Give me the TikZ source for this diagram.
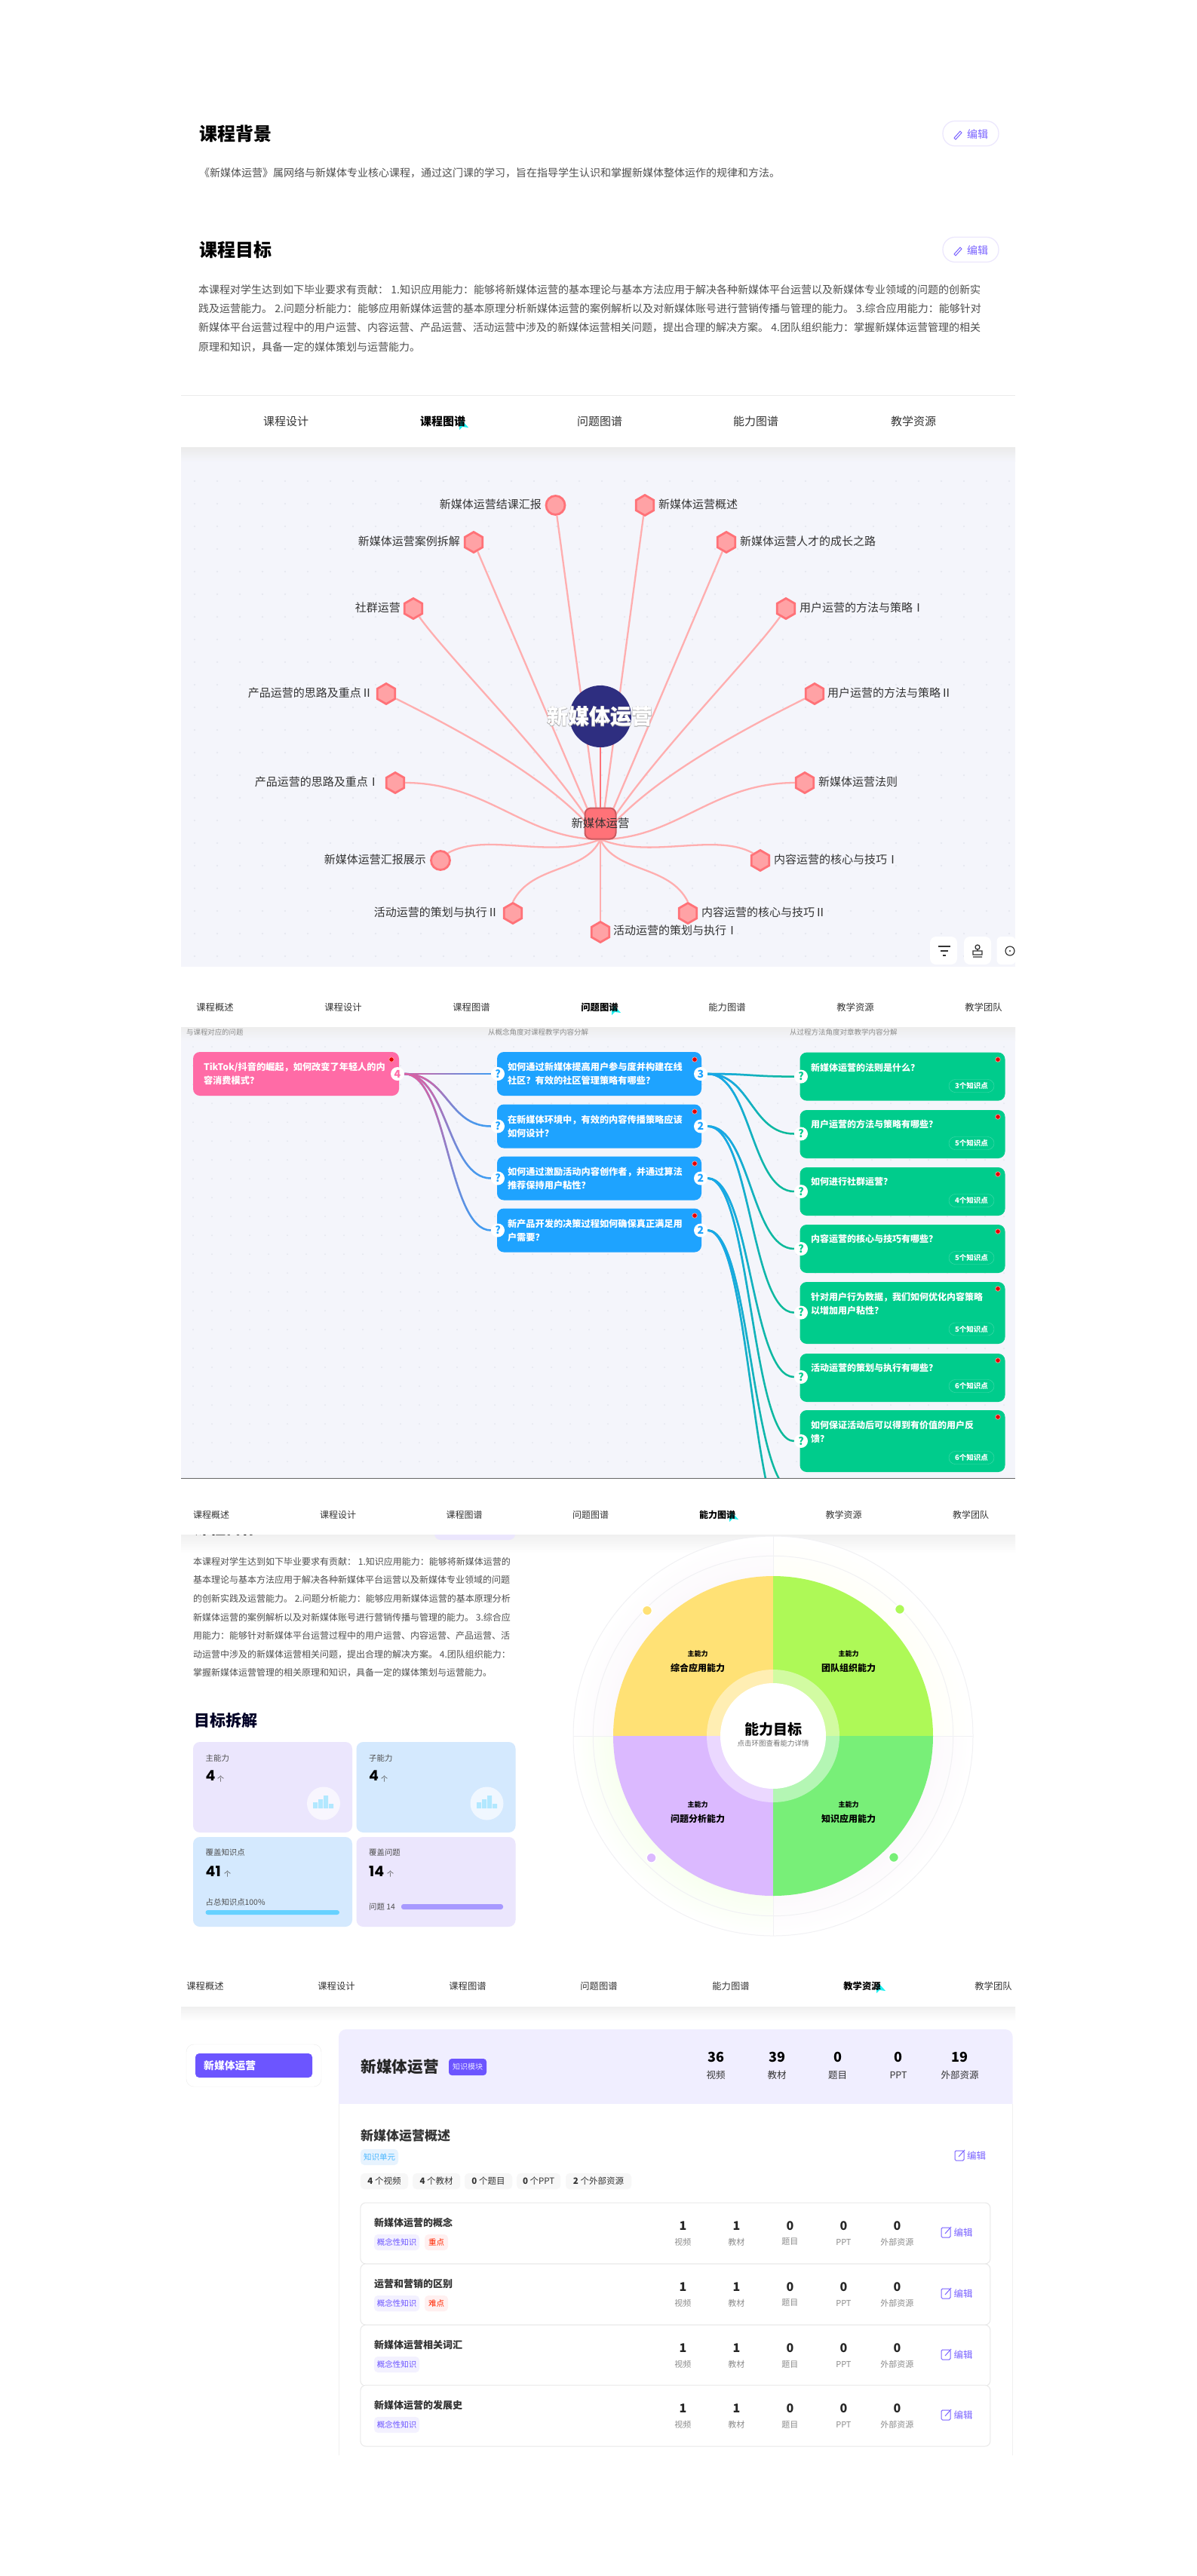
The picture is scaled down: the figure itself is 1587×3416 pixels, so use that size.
\documentclass[tikz,border=0pt]{standalone}
\usepackage{fontspec}
\setmainfont{Noto Sans CJK SC}
\newfontfamily\numfont{Poppins}
\usetikzlibrary{shapes.geometric,fadings}
\newcommand\fsz[1]{\fontsize{#1}{#1}\selectfont}
\definecolor{panelbg}{HTML}{F4F5FB}
\definecolor{griddot}{HTML}{E3E5EE}
\definecolor{inktxt}{HTML}{333333}
\definecolor{bodytxt}{HTML}{4F4F4F}
\definecolor{softtxt}{HTML}{8C8C8C}
\definecolor{accent}{HTML}{6C55FF}
\definecolor{penpurple}{HTML}{7A63FF}
\definecolor{cuecyan}{HTML}{1CF0F0}
\definecolor{kpedge}{HTML}{FF7278}
\definecolor{kpfill}{HTML}{FFA2A5}
\definecolor{kpline}{HTML}{FFAEAF}
\definecolor{midblue}{HTML}{2E2E80}
\definecolor{pinkbox}{HTML}{FF6BA6}
\definecolor{bluebox}{HTML}{1EA3FF}
\definecolor{greenbox}{HTML}{00CC8C}
\definecolor{linkpink}{HTML}{E060A0}
\definecolor{linkblue}{HTML}{3F9DF2}
\definecolor{linkgreen}{HTML}{0DBB98}
\definecolor{linksky}{HTML}{1AA6EE}
\definecolor{cardlav}{HTML}{EBE6FD}
\definecolor{cardsky}{HTML}{D4E9FE}
\definecolor{wheely}{HTML}{FFE175}
\definecolor{wheelg}{HTML}{AEF957}
\definecolor{wheelp}{HTML}{DBB9FF}
\definecolor{wheeld}{HTML}{78EF78}
\definecolor{ringline}{HTML}{F1F1F4}
\tikzfading[name=fadedown, top color=transparent!0, bottom color=transparent!100]
\tikzfading[name=fadeacross, left color=transparent!0, right color=transparent!100]
\tikzset{
  txt/.style={inner sep=0pt, anchor=west, text=bodytxt},
  ctr/.style={inner sep=0pt, text=inktxt},
  headtxt/.style={inner sep=0pt, anchor=west, text=black, font=\bfseries\fsz{24}},
  tabtxt/.style={inner sep=0pt, text=inktxt},
  editbtn/.style={draw=cardlav, line width=1.2pt, fill=white, rounded corners=16pt, minimum width=74pt, minimum height=33pt, inner sep=0pt},
  penline/.style={draw=penpurple, line width=1pt},
  kphex/.style={draw=kpedge, fill=kpfill, line width=2.8pt, regular polygon, regular polygon sides=6, shape border rotate=30, minimum size=27pt, inner sep=0pt},
  kpball/.style={draw=kpedge, fill=kpfill, line width=2.8pt, circle, minimum size=25pt, inner sep=0pt},
  kplabel/.style={inner sep=0pt, text=inktxt, font=\fsz{15}},
  kplink/.style={draw=kpline, line width=2.3pt},
  ctrlbtn/.style={fill=white, rounded corners=8pt, minimum width=36pt, minimum height=37pt, inner sep=0pt},
  qbox/.style={rounded corners=9pt, text=white, align=left, inner xsep=14pt, inner ysep=0pt, minimum height=58pt, font=\bfseries\fontsize{12.2}{18}\selectfont},
  gbox/.style={fill=greenbox, rounded corners=9pt, minimum width=272pt, inner sep=0pt},
  gtxt/.style={inner sep=0pt, anchor=west, text=white, font=\bfseries\fsz{12}},
  gpill/.style={draw=white!30!greenbox, rounded corners=8.5pt, minimum width=60pt, minimum height=17pt, inner sep=0pt, text=white, font=\bfseries\fsz{9.5}},
  reddot/.style={circle, fill=red!90!black, draw=white!60!red, line width=.7pt, minimum size=6.5pt, inner sep=0pt},
  badge/.style={circle, fill=white, minimum size=18pt, inner sep=0pt, font=\bfseries\fsz{14}},
  link/.style={line width=2.5pt},
  statcard/.style={rounded corners=9pt, minimum width=211pt, inner sep=0pt},
  wheelsmall/.style={inner sep=0pt, text=black, font=\bfseries\fsz{9}},
  wheelbig/.style={inner sep=0pt, text=black, font=\bfseries\fsz{12}},
  wheeldot/.style={circle, draw=white, line width=1.5pt, minimum size=13pt, inner sep=0pt},
  tagpurple/.style={fill=accent!8, rounded corners=5pt, text=accent, minimum width=60pt, minimum height=21pt, inner sep=0pt, font=\fsz{10.5}},
  tagred/.style={fill=red!6, rounded corners=5pt, text=red!70!orange, minimum width=31pt, minimum height=21pt, inner sep=0pt, font=\fsz{10.5}},
  chip/.style={fill=black!3, rounded corners=5pt, text=inktxt, minimum height=21pt, inner sep=0pt, font=\fsz{11.5}},
  rowcard/.style={draw=black!9, line width=1pt, fill=white, rounded corners=7pt, minimum width=835pt, minimum height=81pt, inner sep=0pt}
}
\newcommand\tabcue[1]{\fill[cuecyan] #1 -- ++(9,10) -- ++(-8,-1) -- ++(-4,4) -- ++(0,-6) -- cycle;}
\newcommand\penicon[2]{\draw[penline] (#1,#2) -- ++(8,-9) -- ++(2,2) -- ++(-8,9) -- cycle;}
\newcommand\boxpen[2]{\draw[penline, rounded corners=1.5pt] (#1,#2) rectangle ++(12,13); \draw[penline] (#1+5,#2+8) -- ++(8,-9);}
\begin{document}
\begin{tikzpicture}[x=1pt,y=-1pt]
\useasboundingbox (0,0) rectangle (1587,3416);
\fill[white] (0,0) rectangle (1587,3416);
% course text
\node[headtxt] (h1) at (264,177) {课程背景};
\node[editbtn] (b1) at (1287,177) {};
\penicon{1265}{183}
\node[inner sep=0pt, text=penpurple, font=\fsz{14}] (b1t) at (1296,178) {编辑};
\node[txt, font=\fsz{14}] (p1) at (264,229) {《新媒体运营》属网络与新媒体专业核心课程，通过这门课的学习，旨在指导学生认识和掌握新媒体整体运作的规律和方法。};
\node[headtxt] (h2) at (264,331) {课程目标};
\node[editbtn] (b2) at (1287,331) {};
\penicon{1265}{337}
\node[inner sep=0pt, text=penpurple, font=\fsz{14}] (b2t) at (1296,332) {编辑};
\node[txt, font=\fsz{14}] (l1) at (263,384) {本课程对学生达到如下毕业要求有贡献： 1.知识应用能力：能够将新媒体运营的基本理论与基本方法应用于解决各种新媒体平台运营以及新媒体专业领域的问题的创新实};
\node[txt, font=\fsz{14}] (l2) at (263,409) {践及运营能力。 2.问题分析能力：能够应用新媒体运营的基本原理分析新媒体运营的案例解析以及对新媒体账号进行营销传播与管理的能力。 3.综合应用能力：能够针对};
\node[txt, font=\fsz{14}] (l3) at (263,434) {新媒体平台运营过程中的用户运营、内容运营、产品运营、活动运营中涉及的新媒体运营相关问题，提出合理的解决方案。 4.团队组织能力：掌握新媒体运营管理的相关};
\node[txt, font=\fsz{14}] (l4) at (263,460) {原理和知识，具备一定的媒体策划与运营能力。};
\draw[black!8, line width=1pt] (240,524) -- (1346,524);
\tabcue{(612,557)}
\node[tabtxt, font=\fsz{15}] (t11) at (379,559) {课程设计};
\node[tabtxt, font=\bfseries\fsz{15}, text=black] (t12) at (587,559) {课程图谱};
\node[tabtxt, font=\fsz{15}] (t13) at (795,559) {问题图谱};
\node[tabtxt, font=\fsz{15}] (t14) at (1002,559) {能力图谱};
\node[tabtxt, font=\fsz{15}] (t15) at (1211,559) {教学资源};
% knowledge map
\fill[panelbg] (240,593) rectangle (1346,1282);
\shade[top color=black!8, bottom color=panelbg] (240,593) rectangle (1346,612);
\foreach \x in {258,288,...,1338} \foreach \y in {638,668,...,1268} \fill[griddot] (\x,\y) circle[radius=1.2pt];
\coordinate (hub) at (796,1113);
\node[kpball] (k1) at (736.5,670) {};
\node[kphex] (k2) at (855,670) {};
\node[kphex] (k3) at (628,719) {};
\node[kphex] (k4) at (963,719) {};
\node[kphex] (k5) at (548,807) {};
\node[kphex] (k6) at (1042,807) {};
\node[kphex] (k7) at (512,920) {};
\node[kphex] (k8) at (1080,920) {};
\node[kphex] (k9) at (524,1038) {};
\node[kphex] (k10) at (1067,1038) {};
\node[kpball] (k11) at (584,1141) {};
\node[kphex] (k12) at (1008,1141) {};
\node[kphex] (k13) at (680,1211) {};
\node[kphex] (k14) at (912,1211) {};
\node[kphex] (k15) at (796,1236) {};
\draw[kplink] (k1) -- (hub);
\draw[kplink] (k2) -- (hub);
\draw[kplink] (k3) -- (hub);
\draw[kplink] (k4) -- (hub);
\draw[kplink] (k5) .. controls +(50,70) and +(-50,-90) .. (hub);
\draw[kplink] (k6) .. controls +(-50,70) and +(50,-90) .. (hub);
\draw[kplink] (k7) .. controls +(80,40) and +(-60,-80) .. (hub);
\draw[kplink] (k8) .. controls +(-80,40) and +(60,-80) .. (hub);
\draw[kplink] (k9.east) .. controls +(110,0) and +(-100,0) .. (hub);
\draw[kplink] (k10.west) .. controls +(-110,0) and +(100,0) .. (hub);
\draw[kplink] (k11.north east) .. controls +(50,-28) and +(-66,27) .. (hub);
\draw[kplink] (k12.north west) .. controls +(-50,-28) and +(66,27) .. (hub);
\draw[kplink] (k13.north) .. controls +(25,-50) and +(-20,45) .. (hub);
\draw[kplink] (k14.north) .. controls +(-25,-50) and +(20,45) .. (hub);
\draw[kplink] (k15) -- (hub);
\node[draw=kpedge!80!black, fill=kpedge, line width=2pt, rounded corners=8pt, minimum width=41pt, minimum height=41pt, inner sep=0pt] (kroot) at (796,1092) {};
\node[circle, fill=midblue, minimum size=82pt, inner sep=0pt] (mid) at (796,950) {};
\draw[kpedge, line width=2pt] (mid) -- (kroot);
\node[inner sep=0pt, text=white, font=\bfseries\fsz{28}] (midt) at (795,950) {\rlap{\addfontfeature{FakeBold=2.5}\color{black!35}新媒体运营}新媒体运营};
\node[inner sep=0pt, text=inktxt, font=\fsz{15.4}] (kroott) at (796,1092) {新媒体运营};
\node[kplabel, anchor=east] (k1t) at (718,669) {新媒体运营结课汇报};
\node[kplabel, anchor=west] (k2t) at (873,669) {新媒体运营概述};
\node[kplabel, anchor=east] (k3t) at (610,718) {新媒体运营案例拆解};
\node[kplabel, anchor=west] (k4t) at (981,718) {新媒体运营人才的成长之路};
\node[kplabel, anchor=east] (k5t) at (531,806) {社群运营};
\node[kplabel, anchor=west] (k6t) at (1060,806) {用户运营的方法与策略Ⅰ};
\node[kplabel, anchor=east] (k7t) at (494,919) {产品运营的思路及重点Ⅱ};
\node[kplabel, anchor=west] (k8t) at (1097,919) {用户运营的方法与策略Ⅱ};
\node[kplabel, anchor=east] (k9t) at (503,1037) {产品运营的思路及重点Ⅰ};
\node[kplabel, anchor=west] (k10t) at (1085,1037) {新媒体运营法则};
\node[kplabel, anchor=east] (k11t) at (565,1140) {新媒体运营汇报展示};
\node[kplabel, anchor=west] (k12t) at (1026,1140) {内容运营的核心与技巧Ⅰ};
\node[kplabel, anchor=east] (k13t) at (661,1210) {活动运营的策划与执行Ⅱ};
\node[kplabel, anchor=west] (k14t) at (930,1210) {内容运营的核心与技巧Ⅱ};
\node[kplabel, anchor=west] (k15t) at (813,1234) {活动运营的策划与执行Ⅰ};
\node[ctrlbtn] (c1) at (1251,1260.5) {};
\node[ctrlbtn] (c2) at (1296,1260.5) {};
\node[ctrlbtn, minimum width=25pt, rounded corners=6pt] (c3) at (1334,1260.5) {};
\draw[inktxt, line width=1.5pt] (1244,1255) -- ++(16,0) (1247,1261) -- ++(10,0) (1250,1267) -- ++(4,0);
\draw[inktxt, line width=1.3pt] (1296,1256) circle[radius=3pt] (1296,1259) -- (1296,1261) (1290,1261) rectangle (1302,1266) (1290,1269) -- (1302,1269);
\draw[inktxt, line width=1.2pt] (1339,1261) circle[radius=6pt];
\fill[inktxt] (1339,1261) circle[radius=1.2pt];
% question map
\tabcue{(814,1333)}
\node[tabtxt, font=\fsz{12.3}] (t21) at (285,1336) {课程概述};
\node[tabtxt, font=\fsz{12.3}] (t22) at (455,1336) {课程设计};
\node[tabtxt, font=\fsz{12.3}] (t23) at (625,1336) {课程图谱};
\node[tabtxt, font=\bfseries\fsz{12.3}, text=black] (t24) at (795,1336) {问题图谱};
\node[tabtxt, font=\fsz{12.3}] (t25) at (964,1336) {能力图谱};
\node[tabtxt, font=\fsz{12.3}] (t26) at (1134,1336) {教学资源};
\node[tabtxt, font=\fsz{12.3}] (t27) at (1304,1336) {教学团队};
\fill[panelbg] (240,1362) rectangle (1346,1960);
\shade[top color=black!7, bottom color=panelbg] (240,1362) rectangle (1346,1380);
\foreach \x in {256,281,...,1336} \foreach \y in {1388,1413,...,1950} \fill[griddot] (\x,\y) circle[radius=1pt];
\node[txt, text=softtxt, font=\fsz{9.4}] (q0a) at (247,1369) {与课程对应的问题};
\node[txt, text=softtxt, font=\fsz{9.5}] (q0b) at (647,1369) {从概念角度对课程教学内容分解};
\node[txt, text=softtxt, font=\fsz{9.5}] (q0c) at (1047,1369) {从过程方法角度对章教学内容分解};
\node[qbox, fill=pinkbox, text width=245pt] (q1) at (392.5,1424) {TikTok/抖音的崛起，如何改变了年轻人的内\\容消费模式？};
\node[qbox, fill=bluebox, text width=243pt] (q2) at (794.5,1424) {如何通过新媒体提高用户参与度并构建在线\\社区？有效的社区管理策略有哪些？};
\node[qbox, fill=bluebox, text width=243pt] (q3) at (794.5,1493.5) {在新媒体环境中，有效的内容传播策略应该\\如何设计？};
\node[qbox, fill=bluebox, text width=243pt] (q4) at (794.5,1562.5) {如何通过激励活动内容创作者，并通过算法\\推荐保持用户粘性？};
\node[qbox, fill=bluebox, text width=243pt] (q5) at (794.5,1631.5) {新产品开发的决策过程如何确保真正满足用\\户需要？};
\node[gbox, minimum height=64pt] (g1) at (1196.5,1427.6) {};
\node[gbox, minimum height=64pt] (g2) at (1196.5,1504) {};
\node[gbox, minimum height=64pt] (g3) at (1196.5,1580) {};
\node[gbox, minimum height=64pt] (g4) at (1196.5,1656) {};
\node[gbox, minimum height=82pt] (g5) at (1196.5,1741) {};
\node[gbox, minimum height=64pt] (g6) at (1196.5,1827) {};
\node[gbox, minimum height=82pt] (g7) at (1196.5,1911) {};
\node[badge, text=pinkbox] (n1) at (527,1424) {4};
\node[badge, text=bluebox] (n2) at (929,1424) {3};
\node[badge, text=bluebox] (n3) at (929,1493.5) {2};
\node[badge, text=bluebox] (n4) at (929,1562.5) {2};
\node[badge, text=bluebox] (n5) at (929,1631.5) {2};
\node[badge, text=bluebox] (a2) at (660,1424) {?};
\node[badge, text=bluebox] (a3) at (660,1493.5) {?};
\node[badge, text=bluebox] (a4) at (660,1562.5) {?};
\node[badge, text=bluebox] (a5) at (660,1631.5) {?};
\node[badge, text=greenbox] (a6) at (1062,1427.6) {?};
\node[badge, text=greenbox] (a7) at (1062,1503.5) {?};
\node[badge, text=greenbox] (a8) at (1062,1580) {?};
\node[badge, text=greenbox] (a9) at (1062,1656) {?};
\node[badge, text=greenbox] (a10) at (1062,1740.6) {?};
\node[badge, text=greenbox] (a11) at (1062,1826) {?};
\node[badge, text=greenbox] (a12) at (1062,1911) {?};
\coordinate (a13) at (1053,1978);
\coordinate (a14) at (1053,2044);
\coordinate (top1) at (590,1400);
\coordinate (low1) at (590,1450);
\coordinate (top2) at (990,1400);
\coordinate (low2) at (990,1450);
\draw[link, linkblue] (n1.east) .. controls +(57,0) and +(-57,0) .. (a2.west);
\draw[link, linkpink, path fading=fadeacross] (top1) (low1) (n1.east) .. controls +(57,0) and +(-57,0) .. (a2.west);
\draw[link, linkblue] (n1.east) .. controls +(57,0) and +(-57,0) .. (a3.west);
\draw[link, linkpink, path fading=fadedown] (n1.east) .. controls +(57,0) and +(-57,0) .. (a3.west);
\draw[link, linkblue] (n1.east) .. controls +(57,0) and +(-57,0) .. (a4.west);
\draw[link, linkpink, path fading=fadedown] (n1.east) .. controls +(57,0) and +(-57,0) .. (a4.west);
\draw[link, linkblue] (n1.east) .. controls +(57,0) and +(-57,0) .. (a5.west);
\draw[link, linkpink, path fading=fadedown] (n1.east) .. controls +(57,0) and +(-57,0) .. (a5.west);
\begin{scope}
\clip (240,1362) rectangle (1346,1960);
\draw[link, linkgreen] (n2.east) .. controls +(57,0) and +(-57,0) .. (a6.west);
\draw[link, linksky, path fading=fadeacross] (top2) (low2) (n2.east) .. controls +(57,0) and +(-57,0) .. (a6.west);
\draw[link, linkgreen] (n2.east) .. controls +(57,0) and +(-57,0) .. (a7.west);
\draw[link, linksky, path fading=fadedown] (n2.east) .. controls +(57,0) and +(-57,0) .. (a7.west);
\draw[link, linkgreen] (n2.east) .. controls +(57,0) and +(-57,0) .. (a8.west);
\draw[link, linksky, path fading=fadedown] (n2.east) .. controls +(57,0) and +(-57,0) .. (a8.west);
\draw[link, linkgreen] (n3.east) .. controls +(57,0) and +(-57,0) .. (a9.west);
\draw[link, linksky, path fading=fadedown] (n3.east) .. controls +(57,0) and +(-57,0) .. (a9.west);
\draw[link, linkgreen] (n3.east) .. controls +(57,0) and +(-57,0) .. (a10.west);
\draw[link, linksky, path fading=fadedown] (n3.east) .. controls +(57,0) and +(-57,0) .. (a10.west);
\draw[link, linkgreen] (n4.east) .. controls +(57,0) and +(-57,0) .. (a11.west);
\draw[link, linksky, path fading=fadedown] (n4.east) .. controls +(57,0) and +(-57,0) .. (a11.west);
\draw[link, linkgreen] (n4.east) .. controls +(57,0) and +(-57,0) .. (a12.west);
\draw[link, linksky, path fading=fadedown] (n4.east) .. controls +(57,0) and +(-57,0) .. (a12.west);
\draw[link, linkgreen] (n5.east) .. controls +(57,0) and +(-57,0) .. (a13);
\draw[link, linksky, path fading=fadedown] (n5.east) .. controls +(57,0) and +(-57,0) .. (a13);
\draw[link, linkgreen] (n5.east) .. controls +(57,0) and +(-57,0) .. (a14);
\draw[link, linksky, path fading=fadedown] (n5.east) .. controls +(57,0) and +(-57,0) .. (a14);
\end{scope}
\node[reddot] (r1) at (519,1405) {};
\node[reddot] (r2) at (921,1405) {};
\node[reddot] (r3) at (921,1474) {};
\node[reddot] (r4) at (921,1543) {};
\node[reddot] (r5) at (921,1612) {};
\node[reddot] (r6) at (1323,1405) {};
\node[reddot] (r7) at (1323,1481) {};
\node[reddot] (r8) at (1323,1557) {};
\node[reddot] (r9) at (1323,1633) {};
\node[reddot] (r10) at (1323,1709) {};
\node[reddot] (r11) at (1323,1804) {};
\node[reddot] (r12) at (1323,1879) {};
\node[gtxt] (g1t) at (1075,1416) {新媒体运营的法则是什么？};
\node[gtxt] (g2t) at (1075,1491) {用户运营的方法与策略有哪些？};
\node[gtxt] (g3t) at (1075,1567) {如何进行社群运营？};
\node[gtxt] (g4t) at (1075,1643) {内容运营的核心与技巧有哪些？};
\node[gtxt] (g5t) at (1075,1720) {针对用户行为数据，我们如何优化内容策略};
\node[gtxt] (g5u) at (1075,1737.5) {以增加用户粘性？};
\node[gtxt] (g6t) at (1075,1814) {活动运营的策划与执行有哪些？};
\node[gtxt] (g7t) at (1075,1890) {如何保证活动后可以得到有价值的用户反};
\node[gtxt] (g7u) at (1075,1908) {馈？};
\node[gpill] (p1a) at (1288,1440) {3个知识点};
\node[gpill] (p2a) at (1288,1516) {5个知识点};
\node[gpill] (p3a) at (1288,1592) {4个知识点};
\node[gpill] (p4a) at (1288,1668) {5个知识点};
\node[gpill] (p5a) at (1288,1762.5) {5个知识点};
\node[gpill] (p6a) at (1288,1838) {6个知识点};
\node[gpill] (p7a) at (1288,1933) {6个知识点};
\fill[white] (240,1961) rectangle (1346,2100);
\draw[black!60, line width=1pt] (240,1960) -- (1346,1960);
% ability map
\shade[top color=black!6, bottom color=white] (240,2035) rectangle (1346,2060);
\node[txt, text=black, font=\bfseries\fsz{21}] (h3) at (257,2026) {课程目标};
\fill[cardlav, rounded corners=8pt] (576,2015) rectangle (683,2042);
\fill[white] (240,1961) rectangle (1346,2035);
\tabcue{(970,2005)}
\node[tabtxt, font=\fsz{12}] (t31) at (280,2008.6) {课程概述};
\node[tabtxt, font=\fsz{12}] (t32) at (448,2008.6) {课程设计};
\node[tabtxt, font=\fsz{12}] (t33) at (615.5,2008.6) {课程图谱};
\node[tabtxt, font=\fsz{12}] (t34) at (783,2008.6) {问题图谱};
\node[tabtxt, font=\bfseries\fsz{12}, text=black] (t35) at (951,2008.6) {能力图谱};
\node[tabtxt, font=\fsz{12}] (t36) at (1118.5,2008.6) {教学资源};
\node[tabtxt, font=\fsz{12}] (t37) at (1287,2008.6) {教学团队};
\node[txt, font=\fsz{12}] (d1) at (256,2070.7) {本课程对学生达到如下毕业要求有贡献： 1.知识应用能力：能够将新媒体运营的};
\node[txt, font=\fsz{12}] (d2) at (256,2095) {基本理论与基本方法应用于解决各种新媒体平台运营以及新媒体专业领域的问题};
\node[txt, font=\fsz{12}] (d3) at (256,2120) {的创新实践及运营能力。 2.问题分析能力：能够应用新媒体运营的基本原理分析};
\node[txt, font=\fsz{12}] (d4) at (256,2144.6) {新媒体运营的案例解析以及对新媒体账号进行营销传播与管理的能力。 3.综合应};
\node[txt, font=\fsz{12}] (d5) at (256,2169) {用能力：能够针对新媒体平台运营过程中的用户运营、内容运营、产品运营、活};
\node[txt, font=\fsz{12}] (d6) at (256,2193.6) {动运营中涉及的新媒体运营相关问题，提出合理的解决方案。 4.团队组织能力：};
\node[txt, font=\fsz{12}] (d7) at (256,2218.5) {掌握新媒体运营管理的相关原理和知识，具备一定的媒体策划与运营能力。};
\node[txt, text=black!85!blue, font=\bfseries\fsz{21}] (h4) at (257,2282) {目标拆解};
\node[statcard, fill=cardlav, minimum height=120pt] (s1) at (361.5,2370) {};
\node[statcard, fill=cardsky, minimum height=120pt] (s2) at (578,2370) {};
\node[statcard, fill=cardsky, minimum height=119pt] (s3) at (361.5,2495.5) {};
\node[statcard, fill=cardlav, minimum height=119pt] (s4) at (578,2495.5) {};
\node[txt, font=\fsz{10.4}] (s1a) at (272.5,2331.5) {主能力};
\node[txt, text=black, font=\numfont\bfseries\fsz{19}] (s1b) at (272.5,2355) {4};
\node[txt, font=\fsz{9}] (s1c) at (288,2359) {个};
\node[txt, font=\fsz{10.4}] (s2a) at (489,2331.5) {子能力};
\node[txt, text=black, font=\numfont\bfseries\fsz{19}] (s2b) at (489,2355) {4};
\node[txt, font=\fsz{9}] (s2c) at (505,2359) {个};
\node[txt, font=\fsz{10.4}] (s3a) at (272.5,2457) {覆盖知识点};
\node[txt, text=black, font=\numfont\bfseries\fsz{19}] (s3b) at (272.5,2482) {41};
\node[txt, font=\fsz{9}] (s3c) at (297,2485) {个};
\node[txt, font=\fsz{10.4}] (s3d) at (272.5,2523) {占总知识点100\%};
\node[txt, font=\fsz{10.4}] (s4a) at (489,2457) {覆盖问题};
\node[txt, text=black, font=\numfont\bfseries\fsz{19}] (s4b) at (489,2482) {14};
\node[txt, font=\fsz{9}] (s4c) at (513,2485) {个};
\node[txt, font=\fsz{10.4}] (s4d) at (489,2528.4) {问题 14};
\fill[blue!30!cyan!60!white, rounded corners=3pt] (272.5,2533) rectangle (450,2539);
\fill[accent!60, rounded corners=3pt] (532,2525) rectangle (667,2532);
\fill[white!65!cardlav] (429,2391.5) circle[radius=22pt];
\fill[white!65!cardsky] (645.5,2391.5) circle[radius=22pt];
\fill[blue!30!cyan!30!white] (415,2390) rectangle ++(6,8) (422,2386) rectangle ++(6,12) (429,2381) rectangle ++(6,17) (436,2392) rectangle ++(6,6);
\fill[blue!30!cyan!30!white] (632,2390) rectangle ++(6,8) (639,2386) rectangle ++(6,12) (646,2381) rectangle ++(6,17) (653,2392) rectangle ++(6,6);
% ability wheel
\begin{scope}
\clip (760,2036) rectangle (1025,2302);
\shade[inner color=violet!12, outer color=white] (1025,2302) circle[radius=265pt];
\end{scope}
\begin{scope}
\clip (1025,2036) rectangle (1290,2302);
\shade[inner color=yellow!15, outer color=white] (1025,2302) circle[radius=265pt];
\end{scope}
\begin{scope}
\clip (760,2302) rectangle (1025,2568);
\shade[inner color=green!30!lime!30, outer color=white] (1025,2302) circle[radius=265pt];
\end{scope}
\begin{scope}
\clip (1025,2302) rectangle (1290,2568);
\shade[inner color=violet!12, outer color=white] (1025,2302) circle[radius=265pt];
\end{scope}
\draw[ringline, line width=1pt] (1025,2302) circle[radius=265pt];
\draw[ringline, line width=1pt] (1025,2302) circle[radius=238.7pt];
\draw[ringline, line width=1pt] (1025,2037) -- (1025,2567);
\draw[ringline, line width=1pt] (760,2302) -- (1290,2302);
\fill[wheely] (1025,2302) -- ++(0,-212) arc[start angle=90, end angle=180, radius=212pt] -- cycle;
\fill[wheelg] (1025,2302) -- ++(212,0) arc[start angle=0, end angle=90, radius=212pt] -- cycle;
\fill[wheelp] (1025,2302) -- ++(-212,0) arc[start angle=180, end angle=270, radius=212pt] -- cycle;
\fill[wheeld] (1025,2302) -- ++(0,212) arc[start angle=270, end angle=360, radius=212pt] -- cycle;
\fill[white, fill opacity=.45] (1025,2302) circle[radius=88pt];
\node[circle, fill=white, minimum size=140pt, inner sep=0pt] (w0) at (1025,2302) {};
\node[inner sep=0pt, text=black, font=\bfseries\fsz{19}] (w0a) at (1025,2293) {能力目标};
\node[inner sep=0pt, text=black!55, font=\fsz{9.5}] (w0b) at (1025,2312) {点击环图查看能力详情};
\node[wheelsmall] (w1a) at (925,2193) {主能力};
\node[wheelbig] (w1b) at (925,2212) {综合应用能力};
\node[wheelsmall] (w2a) at (1125,2193) {主能力};
\node[wheelbig] (w2b) at (1125,2212) {团队组织能力};
\node[wheelsmall] (w3a) at (925,2393) {主能力};
\node[wheelbig] (w3b) at (925,2412) {问题分析能力};
\node[wheelsmall] (w4a) at (1125,2393) {主能力};
\node[wheelbig] (w4b) at (1125,2412) {知识应用能力};
\node[wheeldot, fill=wheely] (wd1) at (858,2135.7) {};
\node[wheeldot, fill=wheelg] (wd2) at (1193,2134) {};
\node[wheeldot, fill=wheelp] (wd3) at (863.6,2463.6) {};
\node[wheeldot, fill=wheeld] (wd4) at (1185,2463) {};
% teaching resources
\tabcue{(1165,2630)}
\node[tabtxt, font=\fsz{12.3}] (t41) at (272,2634) {课程概述};
\node[tabtxt, font=\fsz{12.3}] (t42) at (446,2634) {课程设计};
\node[tabtxt, font=\fsz{12.3}] (t43) at (620,2634) {课程图谱};
\node[tabtxt, font=\fsz{12.3}] (t44) at (794,2634) {问题图谱};
\node[tabtxt, font=\fsz{12.3}] (t45) at (969,2634) {能力图谱};
\node[tabtxt, font=\bfseries\fsz{12.3}, text=black] (t46) at (1143,2634) {教学资源};
\node[tabtxt, font=\fsz{12.3}] (t47) at (1317,2634) {教学团队};
\shade[top color=black!6, bottom color=white] (240,2661) rectangle (1346,2680);
\node[draw=black!8, fill=white, rounded corners=10pt, minimum width=179pt, minimum height=56pt, inner sep=0pt] (m0) at (336.5,2739) {};
\node[fill=accent, rounded corners=5pt, minimum width=155pt, minimum height=32pt, inner sep=0pt] (m1) at (336.5,2739) {};
\node[txt, text=white, font=\bfseries\fsz{13.8}] (m1t) at (270,2739) {新媒体运营};
\fill[accent!10, rounded corners=10pt] (449,2691) rectangle (1342.6,2800);
\fill[white] (449,2790) rectangle (1342.6,2810);
\draw[black!6, line width=1pt] (449,2790) -- (449,3256);
\draw[black!6, line width=1pt] (1342.6,2790) -- (1342.6,3256);
\node[txt, text=black!85, font=\bfseries\fsz{20.6}] (m2) at (478.5,2740.7) {新媒体运营};
\node[fill=accent, rounded corners=4pt, minimum width=50pt, minimum height=22pt, inner sep=0pt, text=white!85!accent, font=\fsz{10}] (m3) at (620,2741) {知识模块};
\node[ctr, text=black, font=\bfseries\fsz{18}] (n41) at (949,2728) {36};
\node[ctr, text=black, font=\bfseries\fsz{18}] (n42) at (1030,2728) {39};
\node[ctr, text=black, font=\bfseries\fsz{18}] (n43) at (1110.6,2728) {0};
\node[ctr, text=black, font=\bfseries\fsz{18}] (n44) at (1191,2728) {0};
\node[ctr, text=black, font=\bfseries\fsz{18}] (n45) at (1272.7,2728) {19};
\node[ctr, font=\fsz{12.5}] (n46) at (949,2752) {视频};
\node[ctr, font=\fsz{12.5}] (n47) at (1030,2752) {教材};
\node[ctr, font=\fsz{12.5}] (n48) at (1110.6,2752) {题目};
\node[ctr, font=\fsz{12.5}] (n49) at (1191,2752) {PPT};
\node[ctr, font=\fsz{12.5}] (n50) at (1272.7,2752) {外部资源};
\node[txt, text=inktxt, font=\bfseries\fsz{17}] (u1) at (478,2832) {新媒体运营概述};
\node[fill=cardsky!55, rounded corners=5pt, minimum width=50pt, minimum height=21pt, inner sep=0pt, text=blue!40!cyan!70!white, font=\fsz{10.5}] (u2) at (503,2860.5) {知识单元};
\boxpen{1266}{2852}
\node[inner sep=0pt, text=penpurple, font=\fsz{12.5}] (u3) at (1294.5,2859) {编辑};
\node[chip, minimum width=63pt] (u4) at (509.5,2892.5) {\textbf{4} 个视频};
\node[chip, minimum width=63pt] (u5) at (578.7,2892.5) {\textbf{4} 个教材};
\node[chip, minimum width=63pt] (u6) at (647.5,2892.5) {\textbf{0} 个题目};
\node[chip, minimum width=58pt] (u7) at (714.2,2892.5) {\textbf{0} 个PPT};
\node[chip, minimum width=87pt] (u8) at (793.5,2892.5) {\textbf{2} 个外部资源};
\foreach \n/\y/\t in {1/2921/新媒体运营的概念,2/3002/运营和营销的区别,3/3083/新媒体运营相关词汇,4/3163/新媒体运营的发展史} {
  \node[rowcard] (row\n) at (895.4,\y+40.5) {};
  \node[txt, text=inktxt, font=\bfseries\fsz{13}] (rowt\n) at (496,\y+27) {\t};
  \node[tagpurple] (rowk\n) at (526,\y+52.5) {概念性知识};
  \node[ctr, text=black!85, font=\bfseries\fsz{16}] (rowa\n) at (905.4,\y+31) {1};
  \node[ctr, text=black!85, font=\bfseries\fsz{16}] (rowb\n) at (976.4,\y+31) {1};
  \node[ctr, text=black!85, font=\bfseries\fsz{16}] (rowc\n) at (1047.4,\y+31) {0};
  \node[ctr, text=black!85, font=\bfseries\fsz{16}] (rowd\n) at (1118.4,\y+31) {0};
  \node[ctr, text=black!85, font=\bfseries\fsz{16}] (rowe\n) at (1189.4,\y+31) {0};
  \node[ctr, text=softtxt, font=\fsz{11}] (rowf\n) at (905.4,\y+52) {视频};
  \node[ctr, text=softtxt, font=\fsz{11}] (rowg\n) at (976.4,\y+52) {教材};
  \node[ctr, text=softtxt, font=\fsz{11}] (rowh\n) at (1047.4,\y+52) {题目};
  \node[ctr, text=softtxt, font=\fsz{11}] (rowi\n) at (1118.4,\y+52) {PPT};
  \node[ctr, text=softtxt, font=\fsz{11}] (rowj\n) at (1189.4,\y+52) {外部资源};
  \boxpen{1248}{\y+33}
  \node[inner sep=0pt, text=penpurple, font=\fsz{12.5}] (rowl\n) at (1277,\y+40) {编辑};
}
\node[tagred] (tag1) at (578.5,2973.5) {重点};
\node[tagred] (tag2) at (578.5,3054.5) {难点};
\end{tikzpicture}
\end{document}
